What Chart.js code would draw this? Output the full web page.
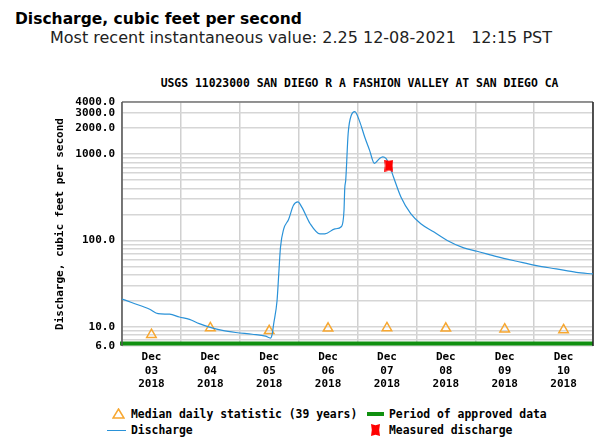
<!DOCTYPE html>
<html>
<head>
<meta charset="utf-8">
<title>USGS 11023000 Discharge</title>
<script src="https://cdn.jsdelivr.net/npm/chart.js@4.4.1/dist/chart.umd.min.js"></script>
<style>
  body { margin: 0; width: 600px; height: 441px; position: relative; background: #fff; overflow: hidden; }
  #head1 { position: absolute; left: 15px; top: 10px; line-height: 18px; font: bold 15.5px "DejaVu Sans", sans-serif; color: #000; white-space: pre; }
  #head2 { position: absolute; left: 50px; top: 28px; line-height: 19px; font: 16px "DejaVu Sans", sans-serif; color: #222; white-space: pre; }
  #station { position: absolute; left: 122px; width: 475px; top: 76px; line-height: 14px; text-align: center; font: bold 11.4px "DejaVu Sans Mono", monospace; white-space: pre; }
  #chart { position: absolute; left: 0; top: 0; }
  .leg { position: absolute; line-height: 14px; font: bold 11.4px "DejaVu Sans Mono", monospace; white-space: pre; }
  .ico { position: absolute; }
</style>
</head>
<body>
<div id="head1">Discharge, cubic feet per second</div>
<div id="head2">Most recent instantaneous value: 2.25 12-08-2021   12:15 PST</div>
<div id="station">USGS 11023000 SAN DIEGO R A FASHION VALLEY AT SAN DIEGO CA</div>
<canvas id="chart" width="600" height="400"></canvas>

<!-- legend -->
<svg class="ico" style="left:112px;top:408px" width="13" height="11"><polygon points="6.5,1 12,10 1,10" fill="none" stroke="#f7a730" stroke-width="1.5"/></svg>
<div class="leg" style="left:131px;top:407px">Median daily statistic (39 years)</div>
<div class="ico" style="left:367px;top:412px;width:17px;height:4px;background:#109010"></div>
<div class="leg" style="left:389px;top:407px">Period of approved data</div>
<div class="ico" style="left:107px;top:430px;width:19px;height:1px;background:#2a92d8"></div>
<div class="leg" style="left:131px;top:423px">Discharge</div>
<svg class="ico" style="left:371px;top:424px" width="9" height="12"><polygon points="0,0 4.5,1.3 9,0 8.2,6 9,12 4.5,10.7 0,12 0.8,6" fill="#ff0000"/></svg>
<div class="leg" style="left:389px;top:423px">Measured discharge</div>

<script>
// hours since Dec 03 2018 00:00
const dischargeHours = [0, 3.9, 11.3, 14.7, 19.4, 23.4, 27.5, 31.5, 36.3, 40.9, 46.4, 53.1, 58.5, 60.5, 61.2, 61.8,
  63.2, 63.9, 64.6, 65.9, 67.9, 69.9, 71.7, 73.3, 76.7, 80.7, 82.7, 86.8, 89.5, 90.5, 90.8, 91.2, 92.2,
  93.5, 94.9, 96.9, 98.9, 100.9, 102.9, 105, 106.3, 107.6, 108.7, 110.7, 113.7, 117.7, 121.8, 127.2, 132.6,
  139.3, 144.7, 152.8, 160.9, 169, 177, 185.2, 192];
const dischargeValues = [21, 19.1, 16, 14.2, 14, 13, 12.2, 10.9, 9.8, 9.1, 8.6, 8.2, 7.8, 7.4, 8.2, 10.7,
  20, 40.9, 83, 135, 175, 255, 279, 243, 156, 119, 119, 136, 145, 223, 400, 497, 1740,
  2830, 3100, 2370, 1585, 1110, 778, 889, 929, 889, 780, 539, 318, 204, 156, 125, 100,
  82, 75, 65, 57.4, 51, 46.8, 42.7, 40.9];

const medianHours = [12, 36, 60, 84, 108, 132, 156, 180];
const medianValues = [8.1, 9.7, 9.0, 9.6, 9.7, 9.6, 9.4, 9.2];

const measuredHours = [108.8];
const measuredValues = [735];

const approvedPeriod = [0, 192];

const dayBoundaries = [0, 24, 48, 72, 96, 120, 144, 168, 192];
const labelHours = [12, 36, 60, 84, 108, 132, 156, 180];
const dayLabels = ['03', '04', '05', '06', '07', '08', '09', '10'];

const yGridValues = [6, 7, 8, 9, 10, 20, 30, 40, 50, 60, 70, 80, 90, 100, 200, 300, 400, 500, 600, 700, 800, 900,
  1000, 2000, 3000, 4000];
const yLabelValues = [6, 10, 100, 1000, 2000, 3000, 4000];

const monoBold = { family: 'DejaVu Sans Mono', weight: 'bold', size: 11 };

function pairs(xs, ys) {
  return xs.map((x, i) => ({ x: x, y: ys[i] }));
}

function measuredIcon() {
  const c = document.createElement('canvas');
  c.width = 9; c.height = 12;
  const g = c.getContext('2d');
  g.fillStyle = '#ff0000';
  g.beginPath();
  g.moveTo(0, 0); g.lineTo(4.5, 1.3); g.lineTo(9, 0); g.lineTo(8.2, 6);
  g.lineTo(9, 12); g.lineTo(4.5, 10.7); g.lineTo(0, 12); g.lineTo(0.8, 6);
  g.closePath(); g.fill();
  return c;
}

// frame + approved-data bar
const framePlugin = {
  id: 'frame',
  beforeDatasetsDraw(chart) {
    const { ctx, chartArea: a, scales } = chart;
    ctx.save();
    ctx.fillStyle = '#109010';
    const x0 = scales.x.getPixelForValue(approvedPeriod[0]);
    const x1 = scales.x.getPixelForValue(approvedPeriod[1]);
    ctx.fillRect(x0 - 2, a.bottom - 4.5, x1 - x0 + 2, 4);
    ctx.lineWidth = 1.5;
    ctx.strokeStyle = '#777';
    ctx.beginPath(); ctx.moveTo(a.left, a.top); ctx.lineTo(a.right, a.top); ctx.stroke();
    ctx.strokeStyle = '#222';
    ctx.beginPath(); ctx.moveTo(a.right, a.top); ctx.lineTo(a.right, a.bottom); ctx.stroke();
    ctx.strokeStyle = '#555';
    ctx.beginPath(); ctx.moveTo(a.left, a.top); ctx.lineTo(a.left, a.bottom); ctx.stroke();
    ctx.restore();
  }
};

new Chart(document.getElementById('chart'), {
  type: 'line',
  data: {
    datasets: [
      {
        label: 'Measured discharge',
        data: pairs(measuredHours, measuredValues),
        showLine: false,
        pointStyle: measuredIcon(),
        pointRadius: 6
      },
      {
        label: 'Discharge',
        data: pairs(dischargeHours, dischargeValues),
        borderColor: '#2a92d8',
        borderWidth: 1.2,
        pointRadius: 0,
        cubicInterpolationMode: 'monotone'
      },
      {
        label: 'Median daily statistic (39 years)',
        data: pairs(medianHours, medianValues),
        showLine: false,
        pointStyle: 'triangle',
        pointRadius: 5.5,
        pointBorderWidth: 1.5,
        borderColor: '#f7a730',
        backgroundColor: 'rgba(255,255,255,0)'
      }
    ]
  },
  options: {
    responsive: false,
    animation: false,
    layout: { padding: { top: 102, right: 3, bottom: 0, left: 0 } },
    plugins: { legend: { display: false }, tooltip: { enabled: false } },
    scales: {
      x: {
        type: 'linear',
        min: 0,
        max: 192,
        afterBuildTicks: s => {
          s.ticks = dayBoundaries.concat(labelHours).sort((a, b) => a - b).map(v => ({ value: v }));
        },
        afterFit: s => { s.height = 54; },
        ticks: {
          autoSkip: false,
          maxRotation: 0,
          padding: 5,
          color: '#000',
          font: monoBold,
          callback: v => {
            const i = labelHours.indexOf(v);
            return i >= 0 ? ['Dec', dayLabels[i], '2018'] : '';
          }
        },
        grid: {
          color: c => (c.tick && c.tick.value % 24 === 0) ? '#d0d0d0' : 'rgba(0,0,0,0)',
          lineWidth: 1.5,
          drawTicks: false
        },
        border: { display: false }
      },
      y: {
        type: 'logarithmic',
        min: 6,
        max: 4000,
        afterBuildTicks: s => { s.ticks = yGridValues.map(v => ({ value: v })); },
        afterFit: s => { s.width = 122; },
        ticks: {
          autoSkip: false,
          padding: 7,
          color: '#000',
          font: monoBold,
          callback: v => yLabelValues.includes(v) ? v.toFixed(1) : ''
        },
        grid: { color: '#d6d6d6', lineWidth: 1.5, drawTicks: false },
        border: { display: false },
        title: {
          display: true,
          text: 'Discharge, cubic feet per second',
          color: '#000',
          font: monoBold,
          padding: { top: 54, bottom: 0 }
        }
      }
    }
  },
  plugins: [framePlugin]
});
</script>
</body>
</html>
